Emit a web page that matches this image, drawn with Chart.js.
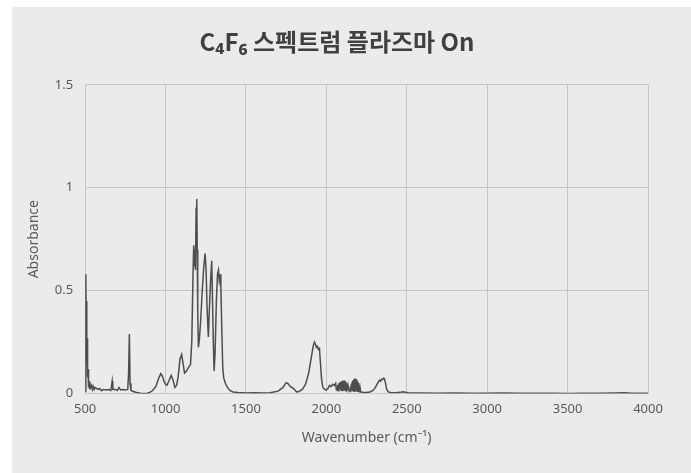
<!DOCTYPE html>
<html>
<head>
<meta charset="utf-8">
<script src="https://cdn.jsdelivr.net/npm/chart.js@4"></script>
<style>
  html, body { margin: 0; padding: 0; background: #fff; }
  canvas { display: block; }
</style>
</head>
<body>
<canvas id="spectrum" width="691" height="473"></canvas>
<script>
const ctx = document.getElementById('spectrum').getContext('2d');

// Spectrum (wavenumber in cm-1, absorbance)
const wavenumber = [
  500, 503, 505, 507, 509, 511, 513, 515, 518, 521, 524, 527, 530, 535, 540, 545, 550, 556, 562, 570,
  580, 590, 600, 615, 630, 645, 660, 668, 672, 690, 700, 710, 720, 735, 750, 765, 770, 775, 779, 785,
  800, 820, 850, 880, 900, 920, 940, 955, 970, 980, 990, 1000, 1008, 1020, 1035, 1045, 1058, 1068, 1078, 1090,
  1100, 1108, 1118, 1130, 1145, 1155, 1163, 1170, 1175, 1179, 1182, 1186, 1190, 1194, 1197, 1200, 1204, 1210, 1218, 1228,
  1238, 1246, 1252, 1258, 1266, 1272, 1280, 1287, 1292, 1297, 1302, 1308, 1316, 1323, 1329, 1334, 1339, 1344, 1350, 1356,
  1362, 1372, 1385, 1400, 1420, 1450, 1500, 1550, 1600, 1650, 1700, 1730, 1750, 1760, 1775, 1795, 1815, 1830, 1850, 1870,
  1890, 1905, 1918, 1926, 1932, 1938, 1944, 1950, 1957, 1963, 1970, 1978, 1990, 2000, 2010, 2020, 2030, 2040, 2050, 2058,
  2062, 2065.5, 2068, 2070.5, 2073, 2075.5, 2078, 2080.5, 2083, 2085.5, 2088, 2090.5, 2093, 2095.5, 2098, 2100.5, 2103, 2105.5, 2108, 2110.5,
  2113, 2115.5, 2118, 2120.5, 2123, 2125.5, 2128, 2130.5, 2133, 2135.5, 2138, 2140.5, 2143, 2147, 2149.5, 2152, 2154.5, 2157, 2159.5, 2162,
  2164.5, 2167, 2169.5, 2172, 2174.5, 2177, 2179.5, 2182, 2184.5, 2187, 2189.5, 2192, 2194.5, 2197, 2199.5, 2202, 2204.5, 2207, 2209.5, 2212,
  2218, 2230, 2250, 2270, 2290, 2305, 2318, 2330, 2337, 2343, 2350, 2356, 2362, 2368, 2375, 2385, 2400, 2430, 2460, 2475,
  2490, 2510, 2550, 2600, 2700, 2800, 2900, 3000, 3100, 3200, 3300, 3400, 3500, 3600, 3700, 3800, 3850, 3900, 4000
];
const absorbance = [
  0.01, 0.05, 0.58, 0.30, 0.45, 0.15, 0.27, 0.08, 0.12, 0.03, 0.06, 0.02, 0.05, 0.03, 0.04, 0.02, 0.035, 0.02, 0.03, 0.025,
  0.02, 0.025, 0.015, 0.02, 0.018, 0.02, 0.015, 0.06, 0.02, 0.02, 0.015, 0.03, 0.018, 0.02, 0.018, 0.02, 0.10, 0.29, 0.05, 0.015,
  0.01, 0.005, 0.0, 0.0, 0.005, 0.015, 0.035, 0.07, 0.097, 0.085, 0.06, 0.045, 0.04, 0.06, 0.088, 0.07, 0.03, 0.04, 0.08, 0.17,
  0.19, 0.15, 0.10, 0.11, 0.13, 0.14, 0.25, 0.55, 0.72, 0.62, 0.70, 0.60, 0.90, 0.945, 0.70, 0.40, 0.225, 0.26, 0.35, 0.50,
  0.62, 0.68, 0.60, 0.42, 0.275, 0.40, 0.55, 0.645, 0.45, 0.25, 0.11, 0.20, 0.45, 0.58, 0.60, 0.55, 0.58, 0.52, 0.30, 0.12,
  0.075, 0.05, 0.03, 0.015, 0.008, 0.005, 0.003, 0.004, 0.003, 0.004, 0.012, 0.03, 0.053, 0.05, 0.035, 0.025, 0.008, 0.01, 0.02, 0.045,
  0.10, 0.17, 0.23, 0.25, 0.24, 0.225, 0.23, 0.215, 0.22, 0.15, 0.07, 0.03, 0.02, 0.018, 0.025, 0.04, 0.035, 0.045, 0.04, 0.05,
  0.02, 0.035, 0.015, 0.042, 0.018, 0.048, 0.015, 0.052, 0.02, 0.055, 0.015, 0.058, 0.018, 0.06, 0.015, 0.062, 0.02, 0.063, 0.015, 0.064,
  0.018, 0.062, 0.015, 0.058, 0.02, 0.052, 0.015, 0.045, 0.018, 0.035, 0.015, 0.025, 0.012, 0.01, 0.03, 0.012, 0.045, 0.015, 0.055, 0.012,
  0.062, 0.015, 0.068, 0.012, 0.073, 0.015, 0.072, 0.012, 0.07, 0.015, 0.066, 0.012, 0.06, 0.015, 0.052, 0.012, 0.04, 0.01, 0.025, 0.008,
  0.008, 0.005, 0.005, 0.008, 0.015, 0.03, 0.05, 0.065, 0.06, 0.07, 0.068, 0.075, 0.07, 0.05, 0.02, 0.008, 0.005, 0.004, 0.006, 0.009,
  0.007, 0.004, 0.003, 0.003, 0.002, 0.003, 0.002, 0.002, 0.003, 0.002, 0.002, 0.002, 0.001, 0.002, 0.002, 0.003, 0.004, 0.002, 0.002
];

const xTicks = ['500', '1000', '1500', '2000', '2500', '3000', '3500', '4000'];
const yTicks = ['0', '0.5', '1', '1.5'];

const points = wavenumber.map((w, i) => ({ x: w, y: absorbance[i] }));

const gridColor = '#c6c6c6';
const textColor = '#595959';

// grey panel behind the chart
const panel = {
  id: 'panel',
  beforeDraw(chart) {
    const c = chart.ctx;
    c.save();
    c.fillStyle = '#ffffff';
    c.fillRect(0, 0, chart.width, chart.height);
    c.fillStyle = '#ebebeb';
    c.fillRect(12, 7, chart.width - 12, chart.height - 7);
    c.restore();
  }
};

const spectrum = new Chart(ctx, {
  type: 'line',
  data: {
    datasets: [{
      data: points,
      borderColor: '#4d4d4d',
      borderWidth: 1.5,
      pointRadius: 0,
      tension: 0,
      fill: false
    }]
  },
  options: {
    responsive: false,
    animation: false,
    devicePixelRatio: 1,
    layout: { padding: { left: 26, right: 43, top: 0, bottom: 27 } },
    plugins: {
      legend: { display: false },
      tooltip: { enabled: false },
      title: {
        display: true,
        text: 'C₄F₆ 스펙트럼 플라즈마 On',
        color: '#404040',
        font: { family: '"Noto Sans CJK KR", "Noto Sans", sans-serif', size: 24, weight: 'bold' },
        padding: { top: 27, bottom: 29 }
      }
    },
    scales: {
      x: {
        type: 'linear',
        min: 500,
        max: 4000,
        afterBuildTicks(scale) { scale.ticks = xTicks.map(v => ({ value: Number(v) })); },
        ticks: {
          color: textColor,
          font: { family: '"Noto Sans", sans-serif', size: 13 },
          padding: 8,
          maxRotation: 0,
          callback: (v) => xTicks.find(t => Number(t) === v)
        },
        grid: { color: gridColor, drawTicks: false },
        border: { color: gridColor },
        title: {
          display: true,
          text: 'Wavenumber (cm⁻¹)',
          color: textColor,
          font: { family: '"Noto Sans", sans-serif', size: 14 },
          padding: { top: 4, bottom: 0 }
        }
      },
      y: {
        type: 'linear',
        min: 0,
        max: 1.5,
        afterBuildTicks(scale) { scale.ticks = yTicks.map(v => ({ value: Number(v) })); },
        ticks: {
          color: textColor,
          font: { family: '"Noto Sans", sans-serif', size: 13 },
          padding: 12,
          callback: (v) => yTicks.find(t => Number(t) === v)
        },
        grid: { color: gridColor, drawTicks: false },
        border: { color: gridColor },
        title: {
          display: true,
          text: 'Absorbance',
          color: textColor,
          font: { family: '"Noto Sans", sans-serif', size: 14 },
          padding: { top: 0, bottom: 0 }
        }
      }
    }
  },
  plugins: [panel]
});
</script>
</body>
</html>
